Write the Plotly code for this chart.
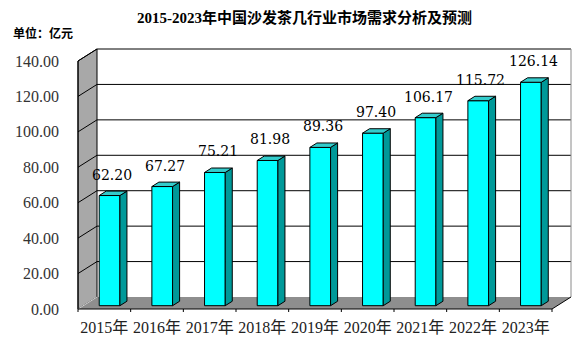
import plotly.graph_objects as go

# ---- data ----
years = ["2015年", "2016年", "2017年", "2018年", "2019年", "2020年", "2021年", "2022年", "2023年"]
values = [62.20, 67.27, 75.21, 81.98, 89.36, 97.40, 106.17, 115.72, 126.14]
y_ticks = [0, 20, 40, 60, 80, 100, 120, 140]
y_tick_text = ["0.00", "20.00", "40.00", "60.00", "80.00", "100.00", "120.00", "140.00"]

title_text = "2015-2023年中国沙发茶几行业市场需求分析及预测"
unit_text = "单位：亿元"

# ---- pseudo-3D geometry (in axis units) ----
N = len(years)
YMAX = y_ticks[-1]
PX_X = 474 / 9          # pixels per category
PX_Y = 248 / 140        # pixels per value unit
DX = 19 / PX_X          # wall depth, horizontal component
DY = 12 / PX_Y          # wall depth, vertical component
HALF_W = 0.1965         # half width of a column's front face
F0, F1 = 0.275, 0.645   # depth span of the columns (fraction of wall depth)

SERIF = "Liberation Serif, Noto Sans CJK SC, serif"
LABEL_FONT = "DejaVu Serif, Liberation Serif, serif"
FRONT = "#00FFFF"
TOP = "#33CCCC"
SIDE = "#009999"
WALL = "#A8A8A8"
FLOOR = "#8E8E8E"

fig = go.Figure()


def poly(xs, ys, fill, line="black", width=1):
    fig.add_trace(go.Scatter(
        x=list(xs) + [xs[0]], y=list(ys) + [ys[0]],
        mode="lines", fill="toself", fillcolor=fill,
        line=dict(color=line, width=width),
        hoverinfo="skip", showlegend=False))


def seg(xs, ys, color="black", width=1):
    fig.add_trace(go.Scatter(
        x=list(xs), y=list(ys), mode="lines",
        line=dict(color=color, width=width),
        hoverinfo="skip", showlegend=False))


# back wall
poly([DX, N + DX, N + DX, DX], [DY, DY, YMAX + DY, YMAX + DY], "white", line="rgba(0,0,0,0)", width=0)
for t in y_ticks[1:]:
    seg([DX, N + DX], [t + DY, t + DY])
seg([N + DX, N + DX], [DY, YMAX + DY], color="#8A8A8A")

# left side wall
poly([0, DX, DX, 0], [0, DY, YMAX + DY, YMAX], WALL)
for t in y_ticks[1:]:
    seg([0, DX], [t, t + DY])

# floor
poly([0, N, N + DX, DX], [0, 0, DY, DY], FLOOR, line="rgba(0,0,0,0)", width=0)
seg([0, DX], [0, DY], color="#D0D0D0")
seg([N, N + DX], [0, DY])

# front axes
seg([0, 0], [0, YMAX])
seg([0, N], [0, 0])
tick_len = 3 / PX_Y
for k in range(N + 1):
    seg([k, k], [0, -tick_len])

# columns
for i, v in enumerate(values):
    xl = i + 0.5 - HALF_W
    xr = i + 0.5 + HALF_W
    # front face
    poly([xl + F0 * DX, xr + F0 * DX, xr + F0 * DX, xl + F0 * DX],
         [F0 * DY, F0 * DY, v + F0 * DY, v + F0 * DY], FRONT)
    # right side face
    poly([xr + F0 * DX, xr + F1 * DX, xr + F1 * DX, xr + F0 * DX],
         [F0 * DY, F1 * DY, v + F1 * DY, v + F0 * DY], SIDE)
    # top face
    poly([xl + F0 * DX, xr + F0 * DX, xr + F1 * DX, xl + F1 * DX],
         [v + F0 * DY, v + F0 * DY, v + F1 * DY, v + F1 * DY], TOP)
    # value label
    fig.add_annotation(
        x=i + 0.5 + 0.15, y=v + F0 * DY, text=f"{v:.2f}",
        xanchor="center", yanchor="bottom", yshift=11, showarrow=False,
        font=dict(family=LABEL_FONT, size=14, color="black"))

# title and unit
fig.add_annotation(
    xref="paper", yref="paper", x=(304 - 60) / 515, y=1 + 23 / 276,
    text=f"<b>{title_text}</b>", showarrow=False, xanchor="center", yanchor="middle",
    font=dict(family=SERIF, size=15, color="black"))
fig.add_annotation(
    xref="paper", yref="paper", x=(11 - 60) / 515, y=1 + 7 / 276,
    text=f"<b>{unit_text}</b>", showarrow=False, xanchor="left", yanchor="middle",
    font=dict(family=SERIF, size=12, color="black"))

L, R, T, B = 60, 2, 40, 30
W, H = 577, 346
x_lo = (L - 78) / PX_X
x_hi = (W - R - 78) / PX_X
y_lo = -((H - B) - 309) / PX_Y
y_hi = (309 - T) / PX_Y

fig.update_layout(
    width=W, height=H,
    margin=dict(l=L, r=R, t=T, b=B),
    paper_bgcolor="white", plot_bgcolor="white",
    xaxis=dict(range=[x_lo, x_hi], showgrid=False, zeroline=False, showline=False,
               tickvals=[i + 0.5 for i in range(N)], ticktext=years, ticks="",
               tickfont=dict(family=SERIF, size=16, color="#222222"), fixedrange=True),
    yaxis=dict(range=[y_lo, y_hi], showgrid=False, zeroline=False, showline=False,
               tickvals=y_ticks, ticktext=y_tick_text, ticks="",
               tickfont=dict(family=SERIF, size=16, color="#333333"), fixedrange=True),
    showlegend=False,
)

fig.write_html("out.html")
